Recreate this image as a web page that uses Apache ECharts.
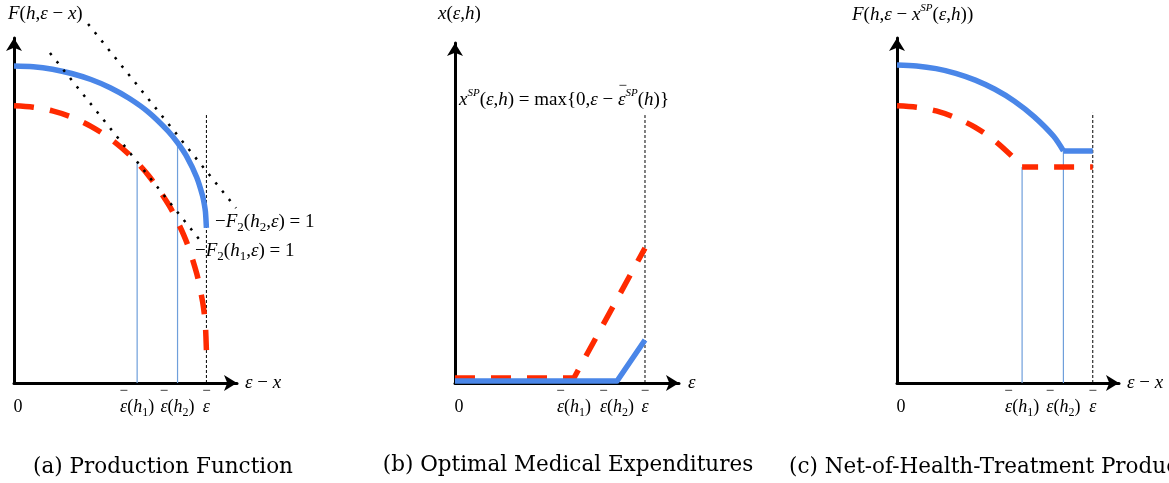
<!DOCTYPE html>
<html>
<head>
<meta charset="utf-8">
<script src="https://cdn.jsdelivr.net/npm/echarts@6/dist/echarts.min.js"></script>
<style>
  html, body { margin: 0; padding: 0; background: #fff; }
  #chart { width: 1169px; height: 483px; }
</style>
</head>
<body>
<div id="chart"></div>
<script>
// ---- Panel (a): production function F(h, ε − x) for two health levels ----
const aX     = [0, 1, 2, 3, 4, 5, 6, 7, 8, 8.5, 9, 9.5, 9.8, 9.9, 9.95, 10];
const aHigh  = [16.26, 16.22, 16.09, 15.87, 15.56, 15.14, 14.59, 13.88, 12.93, 12.32, 11.57, 10.54, 9.60, 9.12, 8.78, 7.95];
const aLow   = [14.21, 14.14, 13.95, 13.63, 13.16, 12.53, 11.70, 10.63, 9.20, 8.28, 7.15, 5.60, 4.18, 3.46, 2.94, 1.69];
const aTangentH1 = [[1.87, 16.92], [9.82, 7.13]];
const aTangentH2 = [[3.85, 18.41], [11.54, 8.97]];
const aCutH1 = [[6.4, 0], [6.4, 11.31]];
const aCutH2 = [[8.5, 0], [8.5, 12.32]];
const aCeil  = [[10, 0], [10, 13.74]];
const aTicks = [0, 6.4, 8.5, 10];

// ---- Panel (b): optimal medical expenditures x(ε, h) ----
const bLow   = [[0, 0.26], [6.26, 0.26], [10, 7.02]];
const bHigh  = [[0, 0.10], [8.53, 0.10], [10, 2.24]];
const bCeil  = [[10, 0], [10, 13.94]];
const bTicks = [0, 6.26, 8.53, 10];

// ---- Panel (c): net-of-health-treatment production ----
const cHighX    = [0, 1, 2, 3, 4, 5, 6, 7, 8, 8.5];
const cHigh     = [16.31, 16.26, 16.12, 15.88, 15.53, 15.06, 14.45, 13.66, 12.65, 11.90];
const cHighFlat = [[8.5, 11.90], [10, 11.90]];
const cLowX     = [0, 1, 2, 3, 4, 5, 6, 6.39];
const cLow      = [14.21, 14.14, 13.95, 13.60, 13.11, 12.42, 11.51, 11.08];
const cLowFlat  = [[6.39, 11.08], [10, 11.08]];
const cCutH1 = [[6.39, 0], [6.39, 11.08]];
const cCutH2 = [[8.5, 0], [8.5, 11.90]];
const cCeil  = [[10, 0], [10, 13.85]];
const cTicks = [0, 6.39, 8.5, 10];

const BLUE = '#4a86e8';
const RED = '#ff2a00';
const THIN = '#6f9fdb';
const SERIF = "'Liberation Serif', 'Times New Roman', serif";

function richSet(size) {
  return {
    r:   { fontFamily: SERIF, fontSize: size, color: '#000', lineHeight: size + 6 },
    i:   { fontFamily: SERIF, fontSize: size, fontStyle: 'italic', color: '#000', lineHeight: size + 6 },
    z:   { fontFamily: SERIF, fontSize: size, color: '#000', lineHeight: size + 6, padding: [0, 0, 0, 8] },
    sb:  { fontFamily: SERIF, fontSize: Math.round(size * 0.66), color: '#000', lineHeight: 14, verticalAlign: 'bottom' },
    sp:  { fontFamily: SERIF, fontSize: Math.round(size * 0.6), fontStyle: 'italic', color: '#000', lineHeight: 14, verticalAlign: 'top' }
  };
}
const RICH18 = richSet(18);
const RICH19 = richSet(19);

// text measurement, used to centre the bar of ε̄ over its ε
const mctx = document.createElement('canvas').getContext('2d');
function measure(font, s) { mctx.font = font; return mctx.measureText(s).width; }
const f18 = "18px 'Liberation Serif'", f18i = "italic 18px 'Liberation Serif'", f12 = "12px 'Liberation Serif'";
const epsW = measure(f18i, 'ε');
const hLabelW = epsW + measure(f18, '(') + measure(f18i, 'h') + measure(f12, '1') + measure(f18, ')');

const tickRich = Object.assign({}, RICH18, {
  bar:  { fontFamily: SERIF, fontSize: 15, color: '#000', lineHeight: 7, padding: [0, hLabelW - epsW, 0, 0] },
  bar0: { fontFamily: SERIF, fontSize: 15, color: '#000', lineHeight: 7 },
  none: { fontSize: 15, lineHeight: 7 }
});
const tickText = [
  '{none| }\n{z|0}',
  '{bar|−}\n{i|ε}{r|(}{i|h}{sb|1}{r|)}',
  '{bar|−}\n{i|ε}{r|(}{i|h}{sb|2}{r|)}',
  '{bar0|−}\n{i|ε}'
];

const zip = (xs, ys) => xs.map((x, k) => [x, ys[k]]);

const grids = [
  { left: 14,  top: 38, width: 223, height: 345 },
  { left: 455, top: 43, width: 224, height: 340 },
  { left: 897, top: 38, width: 222, height: 345 }
];
const xMax = [11.59, 11.79, 11.34];
const yMax = [17.69, 17.69, 17.69];
const ticks = [aTicks, bTicks, cTicks];

const axisLine = {
  show: true, onZero: false,
  symbol: ['none', 'arrow'], symbolSize: [12, 13],
  lineStyle: { color: '#000', width: 3 }
};

const xAxes = grids.map((g, gi) => ({
  gridIndex: gi, type: 'value', min: 0, max: xMax[gi],
  axisLine, axisTick: { show: false }, splitLine: { show: false },
  axisLabel: {
    customValues: ticks[gi],
    formatter: v => tickText[ticks[gi].indexOf(v)],
    margin: 5, rich: tickRich
  }
}));
const yAxes = grids.map((g, gi) => ({
  gridIndex: gi, type: 'value', min: 0, max: yMax[gi],
  axisLine, axisTick: { show: false }, splitLine: { show: false },
  axisLabel: { show: false }
}));

function line(gi, data, style, extra) {
  return Object.assign({
    type: 'line', xAxisIndex: gi, yAxisIndex: gi, data,
    symbol: 'none', silent: true, animation: false,
    lineStyle: style
  }, extra || {});
}

const thick = { width: 5.5, color: BLUE, cap: 'butt', join: 'round' };
const dashed = { width: 5.5, color: RED, type: [20, 16], cap: 'butt', join: 'round' };
const thin = { width: 1.2, color: THIN };
const ceil = { width: 1, color: '#000', type: [3, 2] };
const dots = { width: 2.5, color: '#000', type: [2.5, 8.2], cap: 'butt' };

const series = [
  // (a)
  line(0, aCutH1, thin, { z: 1 }),
  line(0, aCutH2, thin, { z: 1 }),
  line(0, aCeil, ceil, { z: 1 }),
  line(0, zip(aX, aLow), dashed, { smooth: 0.3 }),
  line(0, zip(aX, aHigh), thick, { smooth: 0.3 }),
  line(0, aTangentH1, dots, { clip: false, z: 4 }),
  line(0, aTangentH2, dots, { clip: false, z: 4 }),
  // (b)
  line(1, bCeil, ceil, { z: 1 }),
  line(1, bLow, dashed),
  line(1, bHigh, thick),
  // (c)
  line(2, cCutH1, thin, { z: 1 }),
  line(2, cCutH2, thin, { z: 1 }),
  line(2, cCeil, ceil, { z: 1 }),
  line(2, zip(cLowX, cLow), dashed, { smooth: 0.3 }),
  line(2, cLowFlat, Object.assign({}, dashed, { dashOffset: 4 })),
  line(2, zip(cHighX, cHigh), thick, { smooth: 0.3 }),
  line(2, cHighFlat, thick)
];

function txt(x, y, text, rich, align) {
  return {
    type: 'text', x, y, silent: true,
    style: {
      text, rich: rich || RICH19, align: align || 'left', verticalAlign: 'middle',
      font: "19px 'Liberation Serif', serif", fill: '#000'
    }
  };
}
function caption(x, y, text, align) {
  return {
    type: 'text', x, y, silent: true,
    style: {
      text, align: align || 'center', verticalAlign: 'middle',
      font: "21.5px 'DejaVu Serif', serif", fill: '#000'
    }
  };
}

// position of the bar over ε in the formula of panel (b)
const f19 = "19px 'Liberation Serif'", f19i = "italic 19px 'Liberation Serif'", f11i = "italic 11px 'Liberation Serif'";
const formulaX = 459;
const preBar = measure(f19i, 'x') + measure(f11i, 'SP') + measure(f19, '(') + measure(f19i, 'ε') +
  measure(f19, ',') + measure(f19i, 'h') + measure(f19, ') = max{0,') + measure(f19i, 'ε') + measure(f19, ' − ');
const barX = formulaX + preBar + measure(f19i, 'ε') / 2 + 1;

const graphic = [
  txt(8, 14, '{i|F}{r|(}{i|h}{r|,}{i|ε}{r| − }{i|x}{r|)}'),
  txt(245, 383, '{i|ε}{r| − }{i|x}'),
  txt(215, 222, '{r|−}{i|F}{sb|2}{r|(}{i|h}{sb|2}{r|,}{i|ε}{r|) = 1}'),
  txt(195, 251, '{r|−}{i|F}{sb|2}{r|(}{i|h}{sb|1}{r|,}{i|ε}{r|) = 1}'),
  txt(438, 14, '{i|x}{r|(}{i|ε}{r|,}{i|h}{r|)}'),
  txt(688, 383, '{i|ε}'),
  txt(formulaX, 100, '{i|x}{sp|SP}{r|(}{i|ε}{r|,}{i|h}{r|) = max{0,}{i|ε}{r| − }{i|ε}{sp|SP}{r|(}{i|h}{r|)}}'),
  txt(barX, 86, '{r|−}', { r: { fontFamily: SERIF, fontSize: 15, color: '#000' } }, 'center'),
  txt(852, 15, '{i|F}{r|(}{i|h}{r|,}{i|ε}{r| − }{i|x}{sp|SP}{r|(}{i|ε}{r|,}{i|h}{r|))}'),
  txt(1127, 383, '{i|ε}{r| − }{i|x}'),
  caption(163, 467, '(a) Production Function'),
  caption(568, 465, '(b) Optimal Medical Expenditures'),
  caption(789, 467, '(c) Net-of-Health-Treatment Production', 'left')
];

const chart = echarts.init(document.getElementById('chart'), null, { renderer: 'canvas' });
chart.setOption({
  backgroundColor: '#fff',
  animation: false,
  grid: grids,
  xAxis: xAxes,
  yAxis: yAxes,
  series,
  graphic
});
</script>
</body>
</html>
